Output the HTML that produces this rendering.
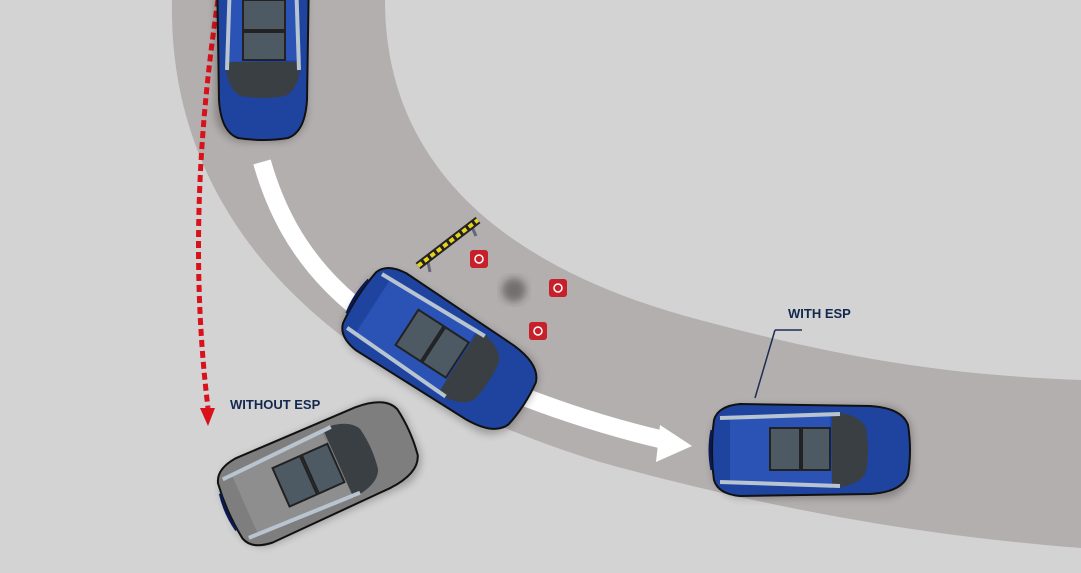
<!DOCTYPE html>
<html><head><style>html,body{margin:0;padding:0;background:#d3d3d3;overflow:hidden}</style></head>
<body>
<svg width="1081" height="568" viewBox="0 0 1081 568" xmlns="http://www.w3.org/2000/svg">
<defs>
<filter id="sh" x="-20%" y="-20%" width="140%" height="140%"><feGaussianBlur stdDeviation="4"/></filter>
<g id="car">
  <rect x="-98" y="-44" width="200" height="92" rx="30" fill="#000" opacity="0.25" filter="url(#sh)"/>
  <path d="M-96,-30 Q-100,0 -96,30 Q-92,44 -70,46 L60,44 Q92,42 98,25 Q102,0 98,-25 Q92,-42 60,-44 L-70,-46 Q-92,-44 -96,-30 Z" fill="var(--b)" stroke="#111" stroke-width="2"/>
  <path d="M22,-38 Q50,-36 56,-22 Q60,0 56,22 Q50,36 22,38 Z" fill="#3a3f44"/>
  <path d="M-80,-34 L20,-38 L22,38 L-80,34 Z" fill="var(--r)"/>
  <rect x="-40" y="-22" width="30" height="42" fill="#4d5a63" stroke="#222" stroke-width="2"/>
  <rect x="-8" y="-22" width="28" height="42" fill="#4d5a63" stroke="#222" stroke-width="2"/>
  <path d="M-90,-32 L30,-36" stroke="#b8c4d0" stroke-width="4"/>
  <path d="M-90,32 L30,36" stroke="#b8c4d0" stroke-width="4"/>
  <path d="M-98,-20 Q-102,0 -98,20" stroke="#0a1a50" stroke-width="3" fill="none"/>
</g>
</defs>
<rect width="1081" height="568" fill="#d3d3d3"/>
<path d="M172,0 C168,200 300,370 600,462 C790,515 950,538 1081,548 L1081,380 C950,375 850,360 700,320 C510,270 385,170 385,0 Z" fill="#b4afaf"/>
<path d="M262,162 C290,260 350,320 470,375 C540,405 600,425 664,440" stroke="#fff" stroke-width="18" fill="none"/>
<polygon points="660,425 692,446 656,462" fill="#fff"/>
<path d="M218,0 C200,120 190,260 208,408" stroke="#d8111a" stroke-width="5" stroke-dasharray="7,4" fill="none"/>
<polygon points="200,408 215,408 208,426" fill="#d8111a"/>
<g transform="translate(263,40) rotate(90)" style="--b:#1f44a0;--r:#2a53b5"><use href="#car"/></g>
<g transform="translate(440,350) rotate(33)" style="--b:#1f44a0;--r:#2a53b5"><use href="#car"/></g>
<g transform="translate(810,450)" style="--b:#1f44a0;--r:#2a53b5"><use href="#car"/></g>
<g transform="translate(318,472) rotate(-24)" style="--b:#7e7e7e;--r:#8e8e8e"><use href="#car"/></g>
<line x1="428" y1="262" x2="430" y2="272" stroke="#667" stroke-width="3"/>
<line x1="472" y1="227" x2="476" y2="236" stroke="#667" stroke-width="3"/>
<line x1="418" y1="266" x2="478" y2="220" stroke="#222" stroke-width="8"/>
<line x1="418" y1="266" x2="478" y2="220" stroke="#e6d21a" stroke-width="4" stroke-dasharray="5,3"/>
<g fill="#c8202a"><rect x="470" y="250" width="18" height="18" rx="3"/><rect x="549" y="279" width="18" height="18" rx="3"/><rect x="529" y="322" width="18" height="18" rx="3"/></g>
<g fill="none" stroke="#fff" stroke-width="1.5"><circle cx="479" cy="259" r="4"/><circle cx="558" cy="288" r="4"/><circle cx="538" cy="331" r="4"/></g>
<circle cx="514" cy="290" r="12" fill="#222" opacity="0.45" filter="url(#sh)"/>
<polyline points="775,330 802,330" stroke="#1d2d55" stroke-width="1.5" fill="none"/>
<polyline points="775,330 755,398" stroke="#1d2d55" stroke-width="1.5" fill="none"/>
<text x="788" y="318" font-family="Liberation Sans, sans-serif" font-weight="bold" font-size="13" fill="#12284f">WITH ESP</text>
<text x="230" y="409" font-family="Liberation Sans, sans-serif" font-weight="bold" font-size="13" fill="#12284f">WITHOUT ESP</text>
</svg>
</body></html>
